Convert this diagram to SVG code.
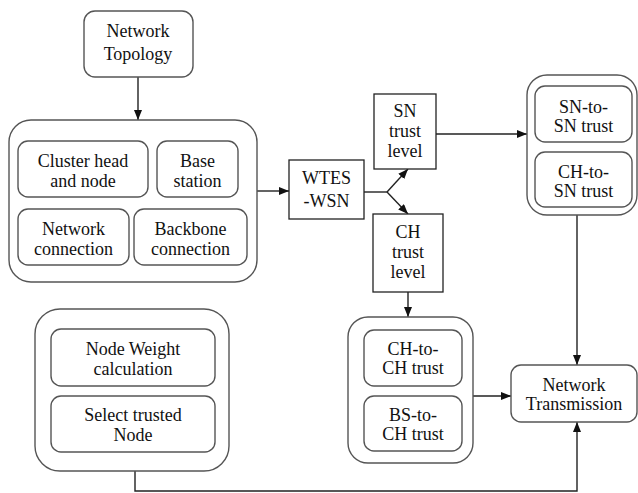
<svg xmlns="http://www.w3.org/2000/svg" width="638" height="493" viewBox="0 0 638 493">
<style>
.rb{fill:#fff;stroke:#555;stroke-width:1.4}
.sq{fill:#fff;stroke:#222;stroke-width:1.3}
.t{font-family:"Liberation Serif","Times New Roman",serif;font-size:18px;fill:#111;text-anchor:middle}
.c{fill:none;stroke:#222;stroke-width:1.4}
</style>
<defs>
<marker id="ah" markerWidth="10" markerHeight="8" refX="10" refY="4" orient="auto" markerUnits="userSpaceOnUse">
<path d="M0,0 L10,4 L0,8 Z" fill="#111"/>
</marker>
</defs>
<rect width="638" height="493" fill="#fff"/>
<g id="connectors">
<line class="c" x1="138" y1="77" x2="138" y2="120" marker-end="url(#ah)"/>
<line class="c" x1="257" y1="191" x2="289" y2="191" marker-end="url(#ah)"/>
<polyline class="c" points="364,192 387,192"/>
<line class="c" x1="387" y1="192" x2="408" y2="169" marker-end="url(#ah)"/>
<line class="c" x1="387" y1="192" x2="408" y2="214" marker-end="url(#ah)"/>
<line class="c" x1="436" y1="134" x2="527" y2="134" marker-end="url(#ah)"/>
<line class="c" x1="408" y1="292" x2="408" y2="317" marker-end="url(#ah)"/>
<line class="c" x1="577" y1="215" x2="577" y2="365" marker-end="url(#ah)"/>
<line class="c" x1="473" y1="396" x2="511" y2="396" marker-end="url(#ah)"/>
<polyline class="c" points="135,471 135,491 577,491 577,422" marker-end="url(#ah)"/>
</g>
<g id="network-topology">
<rect class="rb" x="84" y="11" width="109" height="66" rx="11"/>
<text class="t" x="138" y="37">Network</text>
<text class="t" x="138" y="60">Topology</text>
</g>
<g id="topology-group">
<rect class="rb" x="9" y="120" width="248" height="162" rx="22"/>
<g id="cluster-head">
<rect class="rb" x="18" y="141" width="130" height="56" rx="10"/>
<text class="t" x="83" y="167">Cluster head</text>
<text class="t" x="83" y="187">and node</text>
</g>
<g id="base-station">
<rect class="rb" x="157" y="141" width="81" height="56" rx="10"/>
<text class="t" x="197.5" y="167">Base</text>
<text class="t" x="197.5" y="187">station</text>
</g>
<g id="network-connection">
<rect class="rb" x="18" y="209" width="111" height="56" rx="10"/>
<text class="t" x="73.5" y="235">Network</text>
<text class="t" x="73.5" y="255">connection</text>
</g>
<g id="backbone-connection">
<rect class="rb" x="134" y="209" width="113" height="56" rx="10"/>
<text class="t" x="190.5" y="235">Backbone</text>
<text class="t" x="190.5" y="255">connection</text>
</g>
</g>
<g id="wtes-wsn">
<rect class="sq" x="289" y="160" width="75" height="59"/>
<text class="t" x="326.5" y="184">WTES</text>
<text class="t" x="326.5" y="207">-WSN</text>
</g>
<g id="sn-trust-level">
<rect class="sq" x="374" y="94" width="62" height="75"/>
<text class="t" x="405" y="117">SN</text>
<text class="t" x="405" y="137">trust</text>
<text class="t" x="405" y="157">level</text>
</g>
<g id="ch-trust-level">
<rect class="sq" x="373" y="214" width="70" height="78"/>
<text class="t" x="408" y="238">CH</text>
<text class="t" x="408" y="258">trust</text>
<text class="t" x="408" y="278">level</text>
</g>
<g id="sn-group">
<rect class="rb" x="527" y="75" width="110" height="140" rx="20"/>
<g id="sn-to-sn">
<rect class="rb" x="535" y="86" width="97" height="56" rx="10"/>
<text class="t" x="583.5" y="113">SN-to-</text>
<text class="t" x="583.5" y="132">SN trust</text>
</g>
<g id="ch-to-sn">
<rect class="rb" x="535" y="152" width="97" height="55" rx="10"/>
<text class="t" x="583.5" y="178">CH-to-</text>
<text class="t" x="583.5" y="197">SN trust</text>
</g>
</g>
<g id="ch-group">
<rect class="rb" x="348" y="317" width="125" height="146" rx="20"/>
<g id="ch-to-ch">
<rect class="rb" x="364" y="330" width="98" height="56" rx="10"/>
<text class="t" x="413" y="355">CH-to-</text>
<text class="t" x="413" y="374">CH trust</text>
</g>
<g id="bs-to-ch">
<rect class="rb" x="364" y="396" width="98" height="55" rx="10"/>
<text class="t" x="413" y="421">BS-to-</text>
<text class="t" x="413" y="440">CH trust</text>
</g>
</g>
<g id="node-group">
<rect class="rb" x="35" y="309" width="194" height="162" rx="25"/>
<g id="node-weight">
<rect class="rb" x="51" y="329" width="164" height="57" rx="10"/>
<text class="t" x="133" y="355">Node Weight</text>
<text class="t" x="133" y="375">calculation</text>
</g>
<g id="select-trusted">
<rect class="rb" x="51" y="396" width="164" height="56" rx="10"/>
<text class="t" x="133" y="421">Select trusted</text>
<text class="t" x="133" y="441">Node</text>
</g>
</g>
<g id="network-transmission">
<rect class="rb" x="511" y="365" width="126" height="57" rx="10"/>
<text class="t" x="574" y="391">Network</text>
<text class="t" x="574" y="410">Transmission</text>
</g>
</svg>
